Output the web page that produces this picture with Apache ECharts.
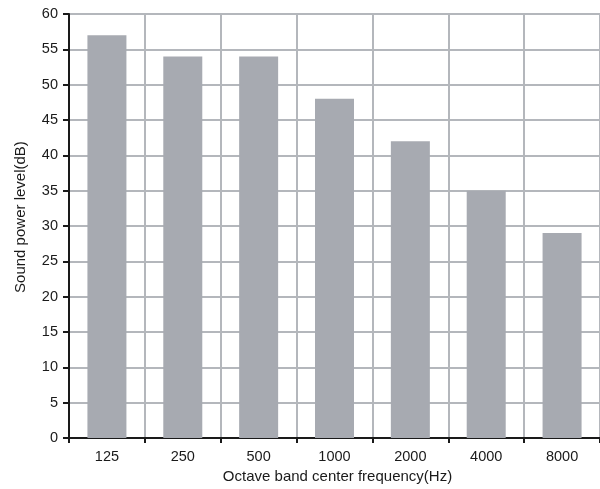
<!DOCTYPE html>
<html><head><meta charset="utf-8">
<script src="https://cdn.jsdelivr.net/npm/echarts@6/dist/echarts.min.js"></script>
<style>html,body{margin:0;padding:0;background:#fff;overflow:hidden;width:600px;height:489px}#c{width:600px;height:489px;overflow:hidden}</style>
</head><body><div id="c"></div>
<script>
var categories = ['125','250','500','1000','2000','4000','8000'];
var values = [57, 54, 54, 48, 42, 35, 29];
var yTicks = {min: 0, max: 60, interval: 5};

var chart = echarts.init(document.getElementById('c'), null, {renderer: 'canvas', width: 600, height: 489});
var font = 'Liberation Sans, Arial, sans-serif';
chart.setOption({
  animation: false,
  backgroundColor: '#ffffff',
  grid: {left: 69, right: -2, top: 14, bottom: 48, containLabel: false},
  xAxis: {
    type: 'category',
    data: categories,
    name: 'Octave band center frequency(Hz)',
    nameLocation: 'middle',
    nameGap: 28,
    nameTextStyle: {color: '#1a1a1a', fontSize: 15, fontFamily: font, padding: [0, 0, 0, 6]},
    axisLine: {show: true, lineStyle: {color: '#1a1a1a', width: 2}},
    axisTick: {show: true, length: 5, lineStyle: {color: '#1a1a1a', width: 2}},
    axisLabel: {color: '#1a1a1a', fontSize: 14.5, fontFamily: font, margin: 11},
    splitLine: {show: true, lineStyle: {color: '#b4b7bc', width: 2}}
  },
  yAxis: {
    type: 'value',
    min: yTicks.min, max: yTicks.max, interval: yTicks.interval,
    name: 'Sound power level(dB)',
    nameLocation: 'middle',
    nameGap: 41,
    nameTextStyle: {color: '#1a1a1a', fontSize: 15, fontFamily: font, padding: [0, 0, 0, 18]},
    axisLine: {show: true, lineStyle: {color: '#1a1a1a', width: 2}},
    axisTick: {show: true, length: 6, lineStyle: {color: '#1a1a1a', width: 2}},
    axisLabel: {color: '#1a1a1a', fontSize: 14.5, fontFamily: font, margin: 11},
    splitLine: {show: true, lineStyle: {color: '#b4b7bc', width: 2}}
  },
  series: [{
    type: 'bar',
    data: values,
    barWidth: 39,
    itemStyle: {color: '#a7aab1'}
  }]
});
</script>
</body></html>
